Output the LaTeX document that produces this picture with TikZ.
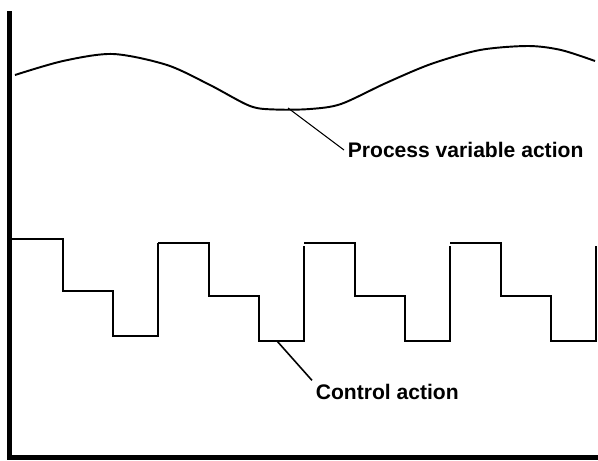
\documentclass[tikz,border=0pt]{standalone}
\usepackage{fontspec}
\setmainfont{Liberation Sans}
\usetikzlibrary{calc}

\begin{document}
\begin{tikzpicture}[x=0.02cm,y=-0.02cm,
		lbl/.style={font=\fontsize{12}{14}\selectfont\bfseries, inner sep=2pt},
		axisline/.style={line width=0.1cm},
		wave/.style={line width=1pt},
		leader/.style={line width=0.6pt}]
	
	\useasboundingbox (0,0) rectangle (598,460);
	
	%--- Truc ---
	\draw[axisline] (9.8,11) |- (598,457.5);
	
	%--- Process variable ---
	\draw[line width=1.1pt] plot[smooth] coordinates {(15,75) (63,61) (113,54) (167,65) (210,85) (250,106) (275,109.5) (310,109) (341,104) (386,83) (431,64) (480,50) (528,46) (561,50) (595,61)};
	
	\coordinate (pv) at (288,108);
	\node[lbl, anchor=west] (pvlabel) at (344,150) {Process variable action};
	\draw[leader] (pv) -- (pvlabel.west);
	
	%--- Control action ---
	\draw[wave] (12,239) -- (63,239) -- (63,291) -- (113,291) -- (113,336) -- (158,336) -- (158,243);
	\foreach \x in {158,304,450} {
		\draw[wave] (\x,243) -- ({\x+51},243) -- ({\x+51},296) -- ({\x+101},296)
			-- ({\x+101},341) -- ({\x+146},341) -- ({\x+146},246);
	}
	
	\coordinate (ca) at (277,341);
	\node[lbl, anchor=west] (calabel) at (312,392) {Control action};
	\draw[line width=0.9pt] (ca) -- (calabel.north west);
	
\end{tikzpicture}
\end{document}
